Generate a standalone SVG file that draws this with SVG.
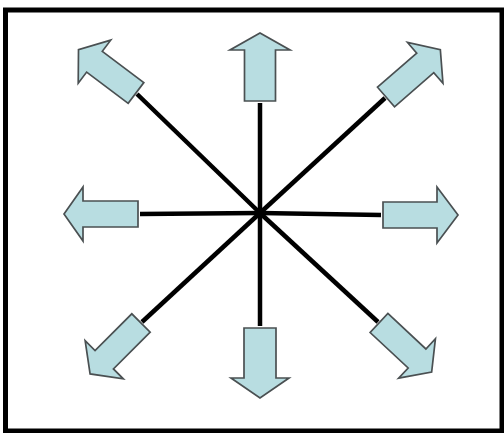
<svg xmlns="http://www.w3.org/2000/svg" width="504" height="433" viewBox="0 0 504 433">
<style>
.arr{fill:#b8dde1;stroke:#4a5052;stroke-width:1.7;stroke-linejoin:miter}
.ln{stroke:#000;stroke-width:4.5;stroke-linecap:butt}
</style>
<defs>
<path id="dA" d="M0,-13 H52 V-27 L72,0 L52,27 V13 H0 Z"/>
</defs>
<rect x="0" y="0" width="504" height="433" fill="#fff"/>
<rect x="5.5" y="10" width="496.5" height="421" fill="#fff" stroke="#000" stroke-width="5"/>
<g id="connectors">
<line class="ln" x1="260" y1="213" x2="260" y2="103"/>
<line class="ln" x1="260" y1="213" x2="260" y2="326"/>
<line class="ln" x1="260" y1="213" x2="140" y2="214"/>
<line class="ln" x1="260" y1="213" x2="381" y2="215"/>
<line class="ln" x1="260" y1="213" x2="137" y2="94"/>
<line class="ln" x1="260" y1="213" x2="385" y2="98"/>
<line class="ln" x1="260" y1="213" x2="142" y2="322"/>
<line class="ln" x1="260" y1="213" x2="378" y2="322"/>
<circle cx="260" cy="213" r="4.5" fill="#000"/>
</g>
<g id="arrow-up"><path class="arr" transform="translate(260,101) rotate(-90)" d="M0,-15.5 H51 V-30 L68,0 L51,30 V15.5 H0 Z"/></g>
<g id="arrow-down"><path class="arr" transform="translate(260,328) rotate(90)" d="M0,-16 H50 V-29 L70,0 L50,29 V16 H0 Z"/></g>
<g id="arrow-left"><path class="arr" transform="translate(138,214) rotate(180)" d="M0,-13 H55 V-27 L74,0 L55,27 V13 H0 Z"/></g>
<g id="arrow-right"><path class="arr" transform="translate(383,215)" d="M0,-13 H54 V-28 L75,0 L54,28 V13 H0 Z"/></g>
<g id="arrow-upleft"><use href="#dA" class="arr" transform="translate(136,93) rotate(-143)"/></g>
<g id="arrow-upright"><use href="#dA" class="arr" transform="translate(386,97) rotate(-41)"/></g>
<g id="arrow-downleft"><use href="#dA" class="arr" transform="translate(141,323) rotate(135)"/></g>
<g id="arrow-downright"><use href="#dA" class="arr" transform="translate(379,323) rotate(43)"/></g>
</svg>
